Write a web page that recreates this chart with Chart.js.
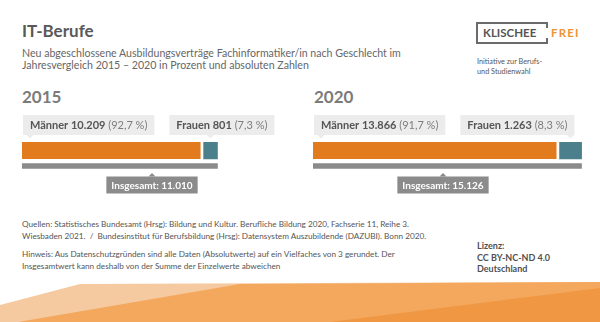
<!DOCTYPE html>
<html lang="de">
<head>
<meta charset="utf-8">
<script src="https://cdn.jsdelivr.net/npm/chart.js@4"></script>
<style>
	html, body { margin: 0; padding: 0; }
	body { width: 600px; height: 322px; overflow: hidden; position: relative; background: #fff; font-family: Lato, 'Open Sans', sans-serif; }
	.abs { position: absolute; white-space: nowrap; }
	#title { left: 22px; top: 20px; font-size: 17px; line-height: 22px; font-weight: 700; color: #595959; }
	#subtitle { left: 22px; top: 48px; font-size: 10.6px; line-height: 11.5px; color: #666; }
	.year { top: 87px; font-size: 17px; line-height: 20px; font-weight: 700; color: #7b7b7b; }
	.foot { left: 22px; font-size: 8.2px; line-height: 12px; color: #555; }
	#license { left: 477px; top: 240px; font-size: 9px; line-height: 11.7px; font-weight: 700; color: #505050; }
	#logo-sub { left: 477px; top: 57px; font-size: 7.3px; line-height: 10px; color: #555; }
	canvas { position: absolute; }
</style>
</head>
<body>

<div class="abs" id="title">IT-Berufe</div>
<div class="abs" id="subtitle">Neu abgeschlossene Ausbildungsverträge Fachinformatiker/in nach Geschlecht im<br>Jahresvergleich 2015 – 2020 in Prozent und absoluten Zahlen</div>

<svg class="abs" style="left:0;top:0" width="600" height="80">
	<path d="M547 28 V23 H477 V43 H547 V38" fill="none" stroke="#6b6b6b" stroke-width="2"/>
	<text x="483" y="37" font-family="Lato" font-weight="700" font-size="11.5" fill="#555">KLISCHEE</text>
	<text x="551" y="37" font-family="Lato" font-weight="700" font-size="11.5" letter-spacing="1.2" fill="#ee9437">FREI</text>
</svg>
<div class="abs" id="logo-sub">Initiative zur Berufs-<br>und Studienwahl</div>

<div class="abs year" id="year0" style="left:22px"></div>
<div class="abs year" id="year1" style="left:314px"></div>

<canvas id="chart2015" width="310" height="95" style="left:0;top:105px"></canvas>
<canvas id="chart2020" width="300" height="95" style="left:300px;top:105px"></canvas>

<div class="abs foot" style="top:218px">Quellen: Statistisches Bundesamt (Hrsg): Bildung und Kultur. Berufliche Bildung 2020, Fachserie 11, Reihe 3.<br>Wiesbaden 2021.&nbsp; / &nbsp;Bundesinstitut für Berufsbildung (Hrsg): Datensystem Auszubildende (DAZUBI). Bonn 2020.</div>
<div class="abs foot" style="top:248px">Hinweis: Aus Datenschutzgründen sind alle Daten (Absolutwerte) auf ein Vielfaches von 3 gerundet. Der<br>Insgesamtwert kann deshalb von der Summe der Einzelwerte abweichen</div>
<div class="abs" id="license">Lizenz:<br>CC BY-NC-ND 4.0<br>Deutschland</div>

<svg class="abs" style="left:0;top:280px" width="600" height="42">
	<polygon points="0,25 80,4 600,2 600,42 0,42" fill="#f6caa0"/>
	<polygon points="18,42 240,4 600,2 600,42" fill="#f3a85e"/>
	<polygon points="330,42 600,8 600,42" fill="#ef9743"/>
</svg>

<script>
// data
const years = ['2015', '2020'];
const maenner = [10209, 13866];
const frauen = [801, 1263];
const insgesamt = [11010, 15126];
const rows = ['Geschlecht', 'Insgesamt'];

const orange = '#e27a1e';
const teal = '#4a7f8b';
const gray = '#8b8b8b';

// 10209 -> "10.209"
function fmt(n) {
	return String(n).replace(/\B(?=(\d{3})+(?!\d))/g, '.');
}
function pct(v, total) {
	return (v / total * 100).toFixed(1).replace('.', ',') + ' %';
}

function drawParts(ctx, x, y, parts) {
	parts.forEach((p) => {
		ctx.font = p.font;
		ctx.fillStyle = p.color;
		ctx.fillText(p.text, x, y);
		x += ctx.measureText(p.text).width;
	});
}
function partsWidth(ctx, parts) {
	let w = 0;
	parts.forEach((p) => {
		ctx.font = p.font;
		w += ctx.measureText(p.text).width;
	});
	return w;
}

// box with a little triangle pointing at the bar
function box(ctx, left, top, w, h, tipX, tipDown, color) {
	ctx.fillStyle = color;
	ctx.fillRect(left, top, w, h);
	ctx.beginPath();
	if (tipDown) {
		ctx.moveTo(tipX - 3.5, top + h);
		ctx.lineTo(tipX + 3.5, top + h);
		ctx.lineTo(tipX, top + h + 3.5);
	} else {
		ctx.moveTo(tipX - 3.5, top);
		ctx.lineTo(tipX + 3.5, top);
		ctx.lineTo(tipX, top - 3.5);
	}
	ctx.fill();
}

const boldFont = '700 11px Lato';
const normFont = '400 11px Lato';

const calloutPlugin = {
	id: 'callouts',
	afterDatasetsDraw(chart) {
		const ctx = chart.ctx;
		const i = chart.options.plugins.callouts.index;
		const area = chart.chartArea;
		const mBar = chart.getDatasetMeta(0).data[0];
		const fBar = chart.getDatasetMeta(1).data[0];
		const tBar = chart.getDatasetMeta(2).data[1];
		const boxTop = 10;
		const boxH = 20;
		const pad = 7;

		ctx.save();
		ctx.textBaseline = 'middle';

		const mParts = [
			{ text: 'Männer ' + fmt(maenner[i]), font: boldFont, color: '#555' },
			{ text: ' (' + pct(maenner[i], insgesamt[i]) + ')', font: normFont, color: '#7d7d7d' },
		];
		const mW = partsWidth(ctx, mParts) + pad * 2;
		const mLeft = mBar.base + 1;
		box(ctx, mLeft, boxTop, mW, boxH, mLeft + 7, true, '#ececec');
		drawParts(ctx, mLeft + pad, boxTop + boxH / 2 + 0.5, mParts);

		const fParts = [
			{ text: 'Frauen ' + fmt(frauen[i]), font: boldFont, color: '#555' },
			{ text: ' (' + pct(frauen[i], insgesamt[i]) + ')', font: normFont, color: '#7d7d7d' },
		];
		const fW = partsWidth(ctx, fParts) + pad * 2;
		const fLeft = mLeft + mW + 15;
		const fTip = (fBar.base + fBar.x) / 2;
		box(ctx, fLeft, boxTop, fW, boxH, fTip, true, '#ececec');
		drawParts(ctx, fLeft + pad, boxTop + boxH / 2 + 0.5, fParts);

		const tParts = [{ text: 'Insgesamt: ' + fmt(insgesamt[i]), font: '700 10px Lato', color: '#fff' }];
		const tW = partsWidth(ctx, tParts) + 10;
		const tCenter = area.left + 130;
		const tTop = tBar.y + tBar.height / 2 + 8;
		box(ctx, tCenter - tW / 2, tTop, tW, 17, tCenter, false, gray);
		drawParts(ctx, tCenter - tW / 2 + 5, tTop + 9, tParts);

		ctx.restore();
	},
};

function makeChart(canvasId, i, padLeft, padRight) {
	document.getElementById('year' + i).textContent = years[i];
	return new Chart(document.getElementById(canvasId), {
		type: 'bar',
		data: {
			labels: rows,
			datasets: [
				{
					label: 'Männer',
					data: [maenner[i], null],
					backgroundColor: orange,
					borderColor: '#fff',
					borderWidth: { top: 0, right: 3, bottom: 0, left: 0 },
					borderSkipped: false,
					barThickness: 18,
				},
				{
					label: 'Frauen',
					data: [frauen[i], null],
					backgroundColor: teal,
					borderWidth: 0,
					barThickness: 18,
				},
				{
					label: 'Insgesamt',
					data: [null, insgesamt[i]],
					backgroundColor: gray,
					borderWidth: 0,
					barThickness: 5,
				},
			],
		},
		options: {
			indexAxis: 'y',
			responsive: false,
			animation: false,
			events: [],
			layout: {
				padding: { left: padLeft, right: padRight, top: 37, bottom: 26 },
			},
			scales: {
				x: { stacked: true, min: 0, max: 15800, display: false },
				y: { stacked: true, display: false },
			},
			plugins: {
				legend: { display: false },
				tooltip: { enabled: false },
				callouts: { index: i },
			},
		},
		plugins: [calloutPlugin],
	});
}

makeChart('chart2015', 0, 22, 7.5);
makeChart('chart2020', 1, 13, 6.5);
</script>
</body>
</html>
